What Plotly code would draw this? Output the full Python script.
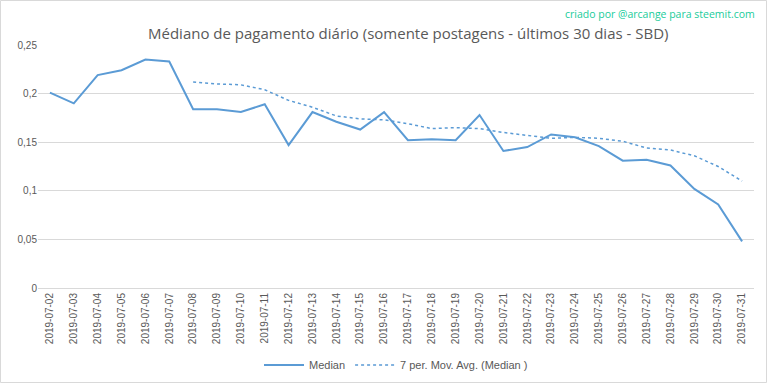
import plotly.graph_objects as go

dates = ["2019-07-%02d" % d for d in range(2, 32)]
median = [0.201, 0.190, 0.219, 0.224, 0.235, 0.233, 0.184, 0.184, 0.181, 0.189,
          0.147, 0.181, 0.171, 0.163, 0.181, 0.152, 0.153, 0.152, 0.178, 0.141,
          0.145, 0.158, 0.155, 0.146, 0.131, 0.132, 0.126, 0.102, 0.086, 0.048]
mov_avg = [None, None, None, None, None, None,
           0.212, 0.210, 0.209, 0.204, 0.193, 0.186, 0.177, 0.174, 0.173, 0.169,
           0.164, 0.165, 0.164, 0.160, 0.157, 0.154, 0.155, 0.154, 0.151, 0.144,
           0.142, 0.136, 0.125, 0.110]
ytick_vals = [0, 0.05, 0.1, 0.15, 0.2, 0.25]
ytick_text = ["0", "0,05", "0,1", "0,15", "0,2", "0,25"]

title = "Médiano de pagamento diário (somente postagens - últimos 30 dias - SBD)"
credit = "criado por @arcange para steemit.com"

W, H = 768, 384
L, R, T, B = 38, 14, 45, 96
pw, ph = W - L - R, H - T - B

fig = go.Figure()
fig.add_trace(go.Scatter(x=dates, y=median, mode="lines", name="Median",
                         line=dict(color="#5b9bd5", width=2)))
fig.add_trace(go.Scatter(x=dates, y=mov_avg, mode="lines", name="7 per. Mov. Avg. (Median )",
                         line=dict(color="#5b9bd5", width=1.5, dash="dot")))

fig.update_layout(
    width=W, height=H,
    margin=dict(l=L, r=R, t=T, b=B, autoexpand=False),
    paper_bgcolor="white", plot_bgcolor="white",
    font=dict(family="Liberation Sans, Arial", color="#595959", size=10),
    showlegend=True,
    legend=dict(orientation="h", x=0.5, xanchor="center", y=-(365 - (H - B)) / ph, yanchor="middle",
                font=dict(size=11, color="#595959"), itemwidth=40),
    xaxis=dict(type="category", range=[-0.5, 29.5], tickangle=-90, automargin=False,
               tickfont=dict(size=10, color="#595959"), showgrid=False,
               showline=True, linecolor="#d9d9d9", ticks=""),
    yaxis=dict(range=[0, 0.25], tickvals=ytick_vals, ticktext=ytick_text, automargin=False,
               showgrid=True, gridcolor="#d9d9d9", zeroline=False,
               tickfont=dict(size=10, color="#595959"), ticks=""),
    annotations=[
        dict(text=title, x=(408 - L) / pw, y=(H - B - 33) / ph, xref="paper", yref="paper",
             showarrow=False, xanchor="center", yanchor="middle",
             font=dict(size=15, color="#595959", family="Open Sans, Liberation Sans")),
        dict(text=credit, x=(757 - L) / pw, y=(H - B - 14) / ph, xref="paper", yref="paper",
             showarrow=False, xanchor="right", yanchor="middle",
             font=dict(size=10.5, color="#20cc9a", family="Open Sans, Liberation Sans")),
    ],
    shapes=[dict(type="rect", xref="paper", yref="paper",
                 x0=(0.5 - L) / pw, x1=(W - 1.5 - L) / pw,
                 y0=-(B - 1.5) / ph, y1=(H - B - 0.5) / ph,
                 line=dict(color="#d9d9d9", width=1), layer="below")],
)

fig.write_html("out.html", config={"displayModeBar": False},
               post_script="document.body.style.margin='0';document.body.style.overflow='hidden';")
